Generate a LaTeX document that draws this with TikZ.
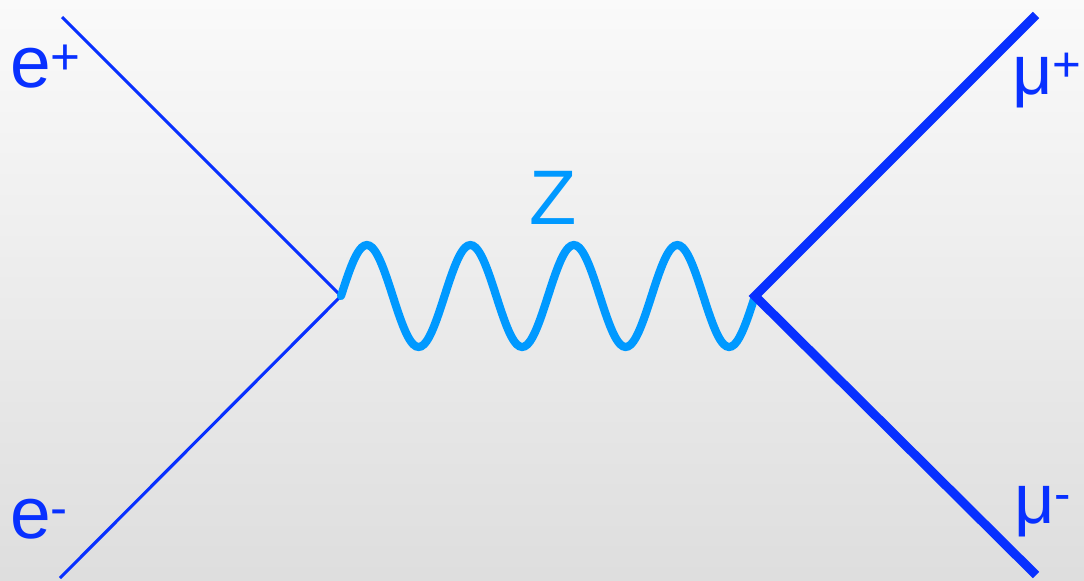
\documentclass[tikz,border=0pt]{standalone}
\usepackage{fontspec}
\setmainfont{Liberation Sans}

\definecolor{leptonblue}{RGB}{8,48,255}
\definecolor{bosonblue}{RGB}{0,153,255}

\begin{document}
\begin{tikzpicture}[x=0.025cm, y=-0.025cm,
    electron/.style={leptonblue, line width=2.2pt},
    muon/.style={leptonblue, line width=6.4pt},
    zboson/.style={bosonblue, line width=5.8pt, line cap=round},
    particle/.style={leptonblue, inner sep=0pt, font=\fontsize{52}{60}\selectfont},
    bosonlabel/.style={bosonblue, inner sep=0pt, font=\fontsize{55}{60}\selectfont}]

    % Background
    \shade[top color=black!2, bottom color=black!13] (0,0) rectangle (1084,580);
    \useasboundingbox (0,0) rectangle (1084,580);

    % Define the points of the diagram
    \coordinate (EP) at (62,17);
    \coordinate (EM) at (60,578);
    \coordinate (V1) at (341,296);
    \coordinate (V2) at (755,296);
    \coordinate (MP) at (1036,15);
    \coordinate (MM) at (1036,575);

    % Draw the lines
    \draw[electron] (EP) -- (V1) -- (EM);
    \draw[zboson, shift={(V1)}] plot[domain=0:4, samples=161, smooth]
        ({103.5*\x}, {-51*sin(360*\x)});
    \draw[muon] (MP) -- (V2) -- (MM);

    % Place the labels
    \node (lep) at (10,87) [particle, anchor=base west] {e\textsuperscript{+}};
    \node (lem) at (10,538) [particle, anchor=base west] {e\textsuperscript{-}};
    \node (lz) at (553,224) [bosonlabel, anchor=base] {Z};
    \node (lmp) at (1012,94) [particle, anchor=base west, font=\fontsize{50}{60}\selectfont] {μ\textsuperscript{+}};
    \node (lmm) at (1014,523) [particle, anchor=base west, font=\fontsize{50}{60}\selectfont] {μ\textsuperscript{-}};

\end{tikzpicture}
\end{document}
